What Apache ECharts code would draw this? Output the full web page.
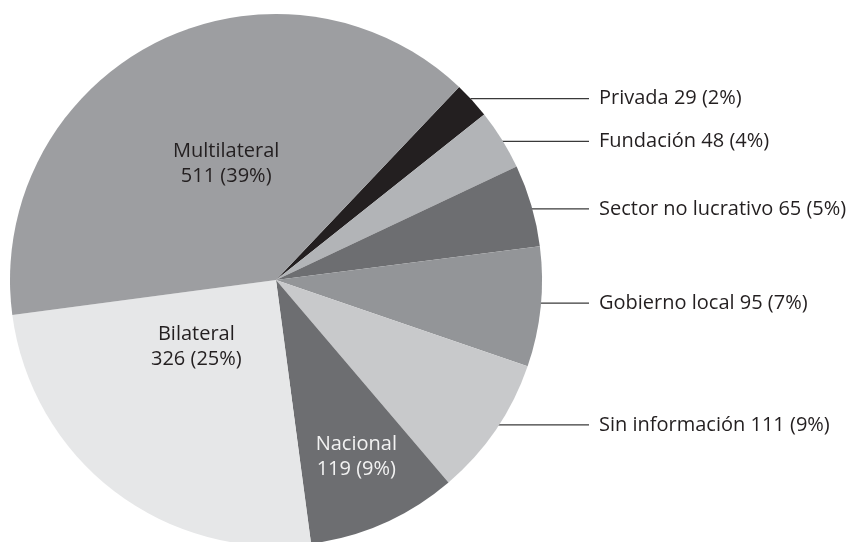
<!DOCTYPE html>
<html><head><meta charset="utf-8">
<script src="https://cdn.jsdelivr.net/npm/echarts@6/dist/echarts.min.js"></script>
<style>html,body{margin:0;padding:0;background:#fff}#c{width:854px;height:542px}</style>
</head><body><div id="c"></div>
<script>
// ---- data ----
const categories = ['Privada', 'Fundación', 'Sector no lucrativo', 'Gobierno local', 'Sin información', 'Nacional', 'Bilateral', 'Multilateral'];
const values = [29, 48, 65, 95, 111, 119, 326, 511];

// ---- styles / layout (not data) ----
const sliceColors = ['#231f20', '#b2b4b7', '#6d6e71', '#939598', '#c8c9cb', '#6d6e71', '#e6e7e8', '#9d9ea1'];
const insideLabel = [false, false, false, false, false, true, true, true];
const insideOffset = [null, null, null, null, null, [25, 53], [3, -41], [12, 5]];
const insideColor = [null, null, null, null, null, '#f2f2f2', '#231f20', '#231f20'];
const leaderAngleShift = [0.5, 1.2, 0.8, 0.2, -0.3, 0, 0, 0];
const leaderRadiusFactor = [1.0, 0.955, 0.91, 0.89, 0.96, 0, 0, 0];
const CX = 276, CY = 280, R = 266;
const LINE_END_X = 589, TEXT_X = 599;
const FONT = '"Open Sans", Lato, "DejaVu Sans", sans-serif';

const chart = echarts.init(document.getElementById('c'), null, {renderer: 'canvas'});

const seriesData = categories.map((name, i) => {
  const item = {name: name, value: values[i], itemStyle: {color: sliceColors[i]}};
  if (insideLabel[i]) {
    item.label = {position: 'inside', offset: insideOffset[i], color: insideColor[i], lineHeight: 25, align: 'center'};
    item.labelLine = {show: false};
  }
  return item;
});

chart.setOption({
  animation: false,
  backgroundColor: '#ffffff',
  series: [{
    type: 'pie',
    center: [CX, CY],
    radius: R,
    startAngle: 46.5,
    clockwise: true,
    avoidLabelOverlap: false,
    data: seriesData,
    itemStyle: {borderWidth: 0},
    label: {
      show: true,
      position: 'outside',
      fontFamily: FONT,
      fontSize: 20,
      color: '#231f20',
      formatter: function (p) {
        const pct = Math.round(p.percent) + '%';
        if (insideLabel[p.dataIndex]) return p.name + '\n' + p.value + ' (' + pct + ')';
        return p.name + ' ' + p.value + ' (' + pct + ')';
      }
    },
    labelLine: {show: true, length: 10, length2: 10, lineStyle: {color: '#3a3a3a', width: 1.2}},
    labelLayout: function (p) {
      const i = p.dataIndex;
      if (insideLabel[i] || !p.labelLinePoints) return {};
      const ex = p.labelLinePoints[0][0], ey = p.labelLinePoints[0][1];
      const mid = Math.atan2(CY - ey, ex - CX) + leaderAngleShift[i] * Math.PI / 180;
      const rr = R * leaderRadiusFactor[i];
      const sx = CX + rr * Math.cos(mid), sy = CY - rr * Math.sin(mid);
      return {
        x: TEXT_X, y: sy, align: 'left', verticalAlign: 'middle',
        labelLinePoints: [[sx, sy], [LINE_END_X, sy], [LINE_END_X, sy]]
      };
    }
  }]
});
</script></body></html>
